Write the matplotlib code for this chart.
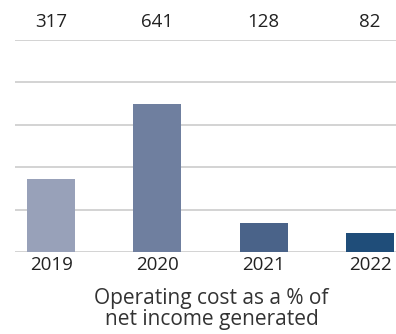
import matplotlib.pyplot as plt
import matplotlib.transforms as mtransforms

plt.rcParams['font.family'] = ['Open Sans', 'DejaVu Sans']

years = ['2019', '2020', '2021', '2022']
values = [317, 641, 128, 82]
bar_colors = ['#98a1b9', '#6f7f9f', '#4a6389', '#1f4d79']

fig = plt.figure(figsize=(3.96, 3.34), dpi=100)
ax = fig.add_axes([0.038, 0.2455, 0.962, 0.6347])

x = range(len(years))
ax.bar(x, values, width=0.45, color=bar_colors, zorder=3)

ax.set_xlim(-0.339, 3.245)
ax.set_ylim(0, 920)
ax.set_yticks([0, 184, 368, 552, 736, 920])
ax.yaxis.grid(True, color='#c8c8c8', linewidth=1.1, zorder=0)
ax.tick_params(axis='y', left=False, labelleft=False)

ax.set_xticks(list(x))
ax.set_xticklabels(years, fontsize=13.5, color='#222222')
ax.tick_params(axis='x', length=0, pad=3)

for s in ax.spines.values():
    s.set_visible(False)

# value labels in a row above the plot area
trans = mtransforms.blended_transform_factory(ax.transData, ax.transAxes)
for i, v in enumerate(values):
    ax.text(i, 1.085, str(v), transform=trans, ha='center', va='center',
            fontsize=13.5, color='#222222')

fig.text(0.534, 0.075, 'Operating cost as a % of\nnet income generated',
         ha='center', va='center', fontsize=15, color='#333333',
         linespacing=1.0)

fig.savefig('out.png', dpi=100)
